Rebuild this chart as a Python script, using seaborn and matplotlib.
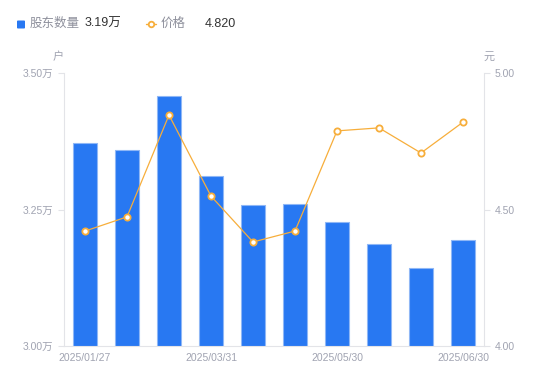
import numpy as np
import pandas as pd
import seaborn as sns
import matplotlib
import matplotlib.pyplot as plt

sns.set_style('white')
plt.rcParams['font.family'] = ['Liberation Sans', 'Noto Sans CJK SC', 'DejaVu Sans']

# data
dates = ['2025/01/27', '2025/02/20', '2025/03/10', '2025/03/31', '2025/04/10',
         '2025/04/30', '2025/05/30', '2025/06/10', '2025/06/20', '2025/06/30']
holders = [3.372, 3.359, 3.458, 3.311, 3.258, 3.260, 3.227, 3.187, 3.143, 3.194]  # 万户
price = [4.421, 4.473, 4.846, 4.549, 4.381, 4.421, 4.788, 4.799, 4.707, 4.820]
shown_ticks = ['2025/01/27', '2025/03/31', '2025/05/30', '2025/06/30']

df = pd.DataFrame({'date': dates, 'holders': holders, 'price': price})
df['pos'] = np.arange(len(df))

blue = '#2878F2'
orange = '#F7AE3B'
grey = '#A0A3B1'
axis_col = '#E3E4E8'

fig = plt.figure(figsize=(5.5, 3.81), dpi=100)
ax = fig.add_axes([64 / 550, 1 - 346 / 381, 420 / 550, 273 / 381])

sns.barplot(data=df, x='date', y='holders', color=blue, saturation=1,
            width=0.58, edgecolor='#8FB7F6', linewidth=0.8, ax=ax)
ax.set_ylim(3.0, 3.5)
ax.set_xlim(-0.5, len(df) - 0.5)
ax.set_yticks([3.0, 3.25, 3.5])
ax.set_yticklabels(['3.00万', '3.25万', '3.50万'])
ax.set_xticks([dates.index(d) for d in shown_ticks])
ax.set_xticklabels(shown_ticks)
ax.set_xlabel('')
ax.set_ylabel('')

ax2 = ax.twinx()
sns.lineplot(data=df, x='pos', y='price', color=orange, linewidth=0.9,
             marker='o', markersize=4.5, markerfacecolor='white',
             markeredgecolor=orange, markeredgewidth=1.3, ax=ax2)
ax2.set_ylim(4.0, 5.0)
ax2.set_yticks([4.0, 4.5, 5.0])
ax2.set_yticklabels(['4.00', '4.50', '5.00'])
ax2.set_ylabel('')
ax2.set_xlabel('')

for a in (ax, ax2):
    for s in a.spines.values():
        s.set_visible(False)
    a.tick_params(labelsize=7.5, colors=grey, length=4, width=0.8)
    a.tick_params(axis='y', color=axis_col)

ax.spines['left'].set_visible(True)
ax.spines['left'].set_color(axis_col)
ax.spines['bottom'].set_visible(True)
ax.spines['bottom'].set_color(axis_col)
ax2.spines['right'].set_visible(True)
ax2.spines['right'].set_color(axis_col)
ax.tick_params(axis='x', length=0, pad=5)
ax2.tick_params(axis='x', length=0)

# units
fig.text(58 / 550, 1 - 57 / 381, '户', fontsize=8, color=grey, ha='center', va='center')
fig.text(489 / 550, 1 - 57 / 381, '元', fontsize=8, color=grey, ha='center', va='center')

# legend header
fig.patches.append(matplotlib.patches.FancyBboxPatch(
    (17 / 550, 1 - 28.5 / 381), 8 / 550, 8 / 381, boxstyle='round,pad=0,rounding_size=0.002',
    transform=fig.transFigure, facecolor=blue, edgecolor='none'))
fig.text(30 / 550, 1 - 24 / 381, '股东数量', fontsize=9, color='#8E909C', va='center')
fig.text(85 / 550, 1 - 24 / 381, '3.19万', fontsize=9, color='#333333', va='center')
fig.lines.append(matplotlib.lines.Line2D([146 / 550, 156 / 550], [1 - 24 / 381] * 2,
                 transform=fig.transFigure, color=orange, linewidth=1))
fig.lines.append(matplotlib.lines.Line2D([151 / 550], [1 - 24 / 381], transform=fig.transFigure,
                 marker='o', markersize=4, markerfacecolor='white', markeredgecolor=orange,
                 markeredgewidth=1.3))
fig.text(161 / 550, 1 - 24 / 381, '价格', fontsize=9, color='#8E909C', va='center')
fig.text(205 / 550, 1 - 24 / 381, '4.820', fontsize=9, color='#333333', va='center')

fig.savefig('out.png', dpi=100)
